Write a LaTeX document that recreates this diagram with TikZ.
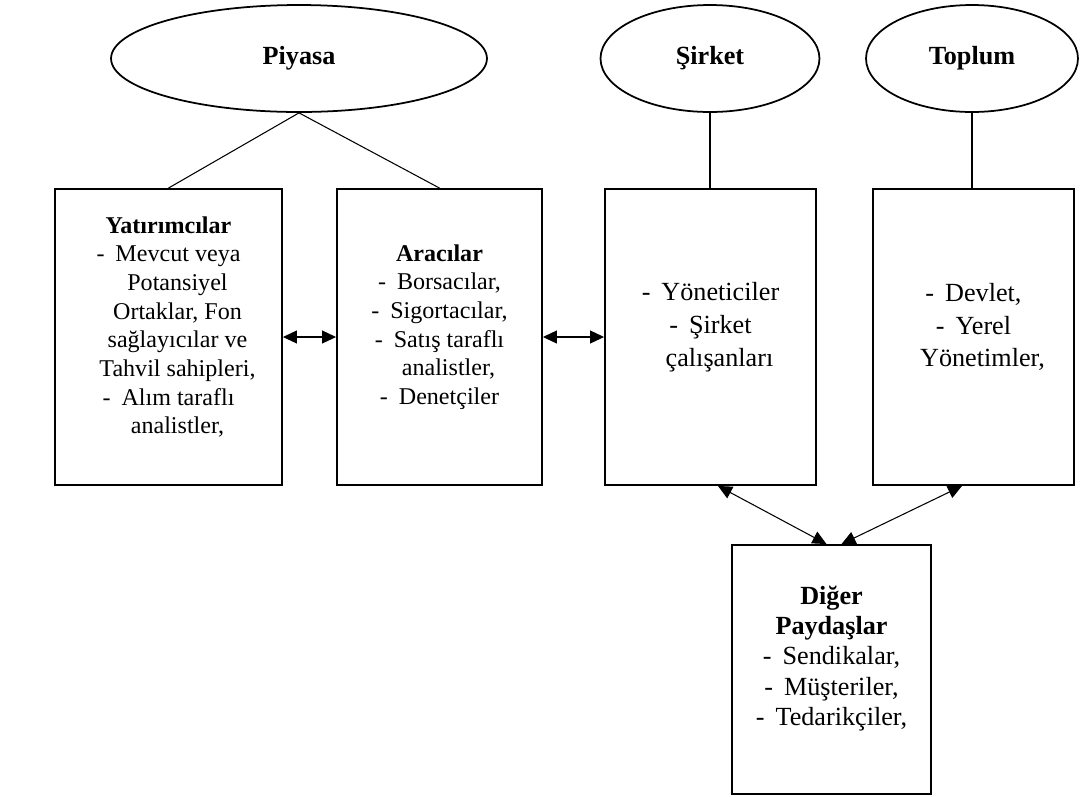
\documentclass[tikz,border=0pt]{standalone}
\usepackage{fontspec}
\setmainfont{Liberation Serif}
\usepackage{tikz}
\usetikzlibrary{shapes.geometric,arrows.meta,backgrounds}
\newcommand{\itemdash}{-\hspace{0.22cm}}
\newcommand{\contline}{\hspace*{0.36cm}}

\begin{document}
\begin{tikzpicture}[
  x=0.02cm, y=-0.02cm,
  sector/.style={
    ellipse, draw, line width=1pt,
    minimum width=#1, minimum height=2.14cm,
    inner sep=0pt,
    font=\bfseries\fontsize{14.9}{18}\selectfont
  },
  panel/.style={
    rectangle, draw, fill=white, line width=1.1pt,
    minimum width=#1, minimum height=5.92cm
  },
  entry/.style={
    align=center, inner sep=0pt,
    font=\fontsize{13.7}{16.3}\selectfont
  },
  link/.style={line width=0.6pt},
  arr/.style={arrows={Triangle[length=0.28cm,width=0.26cm]-Triangle[length=0.28cm,width=0.26cm]}, line width=0.6pt}
]
\useasboundingbox (0,0) rectangle (1080,796);

\node[sector=7.52cm] (piyasa) at (299,58.5) {Piyasa};
\node[sector=4.38cm] (sirket) at (710,58.5) {Şirket};
\node[sector=4.24cm] (toplum) at (972,58.5) {Toplum};

\node[panel=4.54cm] (yat) at (168.5,337) {};
\node[panel=4.10cm] (arac) at (439.5,337) {};
\node[panel=4.22cm] (yon) at (710.5,337) {};
\node[panel=4.02cm] (dev) at (973.5,337) {};
\node[panel=3.98cm, minimum height=4.98cm] (diger) at (831.5,669.5) {};

\node[entry] (yatT) at ([yshift=0.2cm]yat.center) {\textbf{Yatırımcılar}\\\itemdash Mevcut veya\\\contline Potansiyel\\\contline Ortaklar, Fon\\\contline sağlayıcılar ve\\\contline Tahvil sahipleri,\\\itemdash Alım taraflı\\\contline analistler,};
\node[entry] (aracT) at ([yshift=0.2cm]arac.center) {\textbf{Aracılar}\\\itemdash Borsacılar,\\\itemdash Sigortacılar,\\\itemdash Satış taraflı\\\contline analistler,\\\itemdash Denetçiler};
\node[entry, font=\fontsize{14.9}{18.7}\selectfont] (yonT) at ([yshift=0.2cm]yon.center) {\itemdash Yöneticiler\\\itemdash Şirket\\\contline çalışanları};
\node[entry, font=\fontsize{14.9}{18.7}\selectfont] (devT) at ([yshift=0.2cm]dev.center) {\itemdash Devlet,\\\itemdash Yerel\\\contline Yönetimler,};
\node[entry, font=\fontsize{14.9}{17.3}\selectfont] (digerT) at ([yshift=0.22cm]diger.center) {\textbf{Diğer}\\\textbf{Paydaşlar}\\\itemdash Sendikalar,\\\itemdash Müşteriler,\\\itemdash Tedarikçiler,};

\draw[link] (piyasa.south) -- (yat.north);
\draw[link] (piyasa.south) -- (arac.north);
\draw[link] (sirket.south) -- (sirket.south |- yon.north);
\draw[link] (toplum.south) -- (toplum.south |- dev.north);

\draw[arr] (yat.east) -- (arac.west);
\draw[arr] (arac.east) -- (yon.west);
\begin{scope}[on background layer]
  \draw[arr] ([xshift=0.15cm]yon.south) -- ([xshift=-0.1cm]diger.north);
  \draw[arr] ([xshift=-0.23cm]dev.south) -- ([xshift=0.2cm]diger.north);
\end{scope}
\end{tikzpicture}
\end{document}
